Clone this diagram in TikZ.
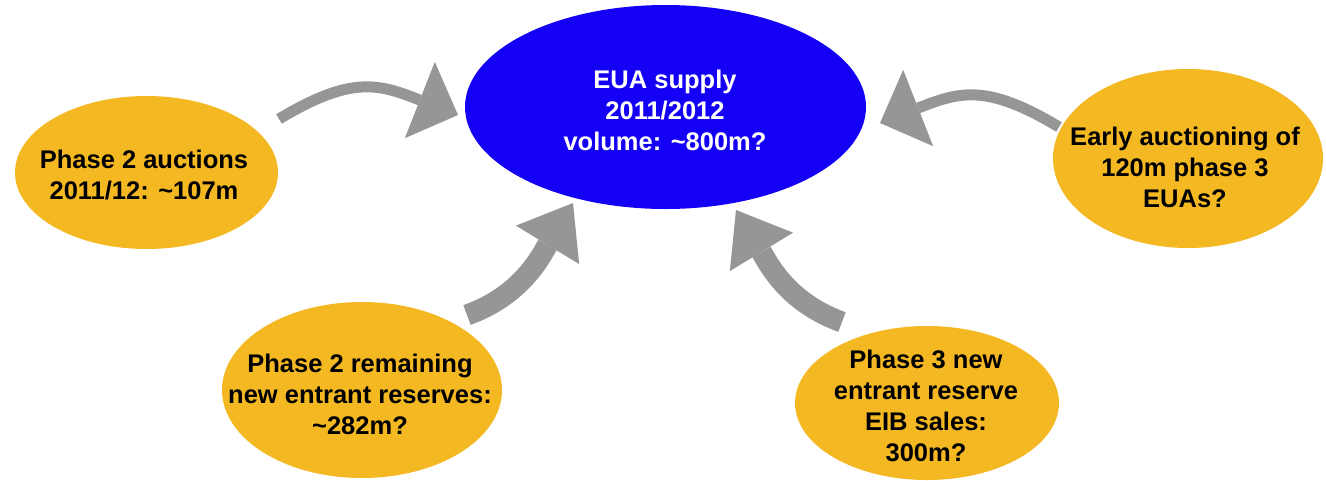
\documentclass[tikz,border=0pt]{standalone}
\usepackage{fontspec}
\setmainfont{Liberation Sans}
\usetikzlibrary{arrows.meta,shapes.geometric}
\definecolor{euablue}{HTML}{1400F5}
\definecolor{boxorange}{HTML}{F4B823}
\definecolor{arrowgray}{HTML}{969696}
\begin{document}
\begin{tikzpicture}[x=1pt,y=-1pt,
  txt/.style={font=\bfseries\fontsize{25.5}{31}\selectfont, align=center, inner sep=0pt},
  bubble/.style={ellipse, fill=boxorange, inner sep=0pt},
  hub/.style={ellipse, fill=euablue, inner sep=0pt},
  thinarrow/.style={draw=arrowgray, line width=11pt, line cap=butt,
    -{Triangle[length=41pt,width=82pt,line width=0pt]}},
  thickarrow/.style={draw=arrowgray, line width=21pt, line cap=butt,
    -{Triangle[length=49pt,width=74pt,line width=0pt]}}]
\useasboundingbox (0,0) rectangle (1326,480);
% arrow end points
\coordinate (a1s) at (279,119);
\coordinate (a1e) at (458,115);
\coordinate (a4s) at (1059,127);
\coordinate (a4e) at (880,123);
\coordinate (a2s) at (467,315);
\coordinate (a2e) at (573,203);
\coordinate (a3s) at (842,322);
\coordinate (a3e) at (736,210);
% arrows
\draw[thinarrow] (a1s) .. controls (352,75) and (379,84) .. (a1e);
\draw[thinarrow] (a4s) .. controls (986,83) and (959,92) .. (a4e);
\draw[thickarrow] (a2s) .. controls (523,295) and (542,254) .. (a2e);
\draw[thickarrow] (a3s) .. controls (786,302) and (767,261) .. (a3e);
% ellipses
\node[hub, minimum width=401pt, minimum height=204pt] (eua) at (665.5,107) {};
\node[bubble, minimum width=263pt, minimum height=153pt] (p2a) at (146.5,172.5) {};
\node[bubble, minimum width=270pt, minimum height=179pt] (early) at (1188,158.5) {};
\node[bubble, minimum width=280pt, minimum height=176pt] (p2r) at (362,390) {};
\node[bubble, minimum width=264pt, minimum height=154pt] (p3) at (927,403) {};
% texts
\node[txt, text=white] (euatxt) at (665,110)
  {EUA supply\\2011/2012\\volume: \textasciitilde 800m?};
\node[txt] (p2atxt) at (144,175)
  {Phase 2 auctions\\2011/12: \textasciitilde 107m};
\node[txt] (earlytxt) at (1185,167) {Early auctioning of\\120m phase 3\\EUAs?};
\node[txt] (p2rtxt) at (360,394)
  {Phase 2 remaining\\new entrant reserves:\\\textasciitilde 282m?};
\node[txt] (p3txt) at (926,406)
  {Phase 3 new\\entrant reserve\\EIB sales:\\300m?};
\end{tikzpicture}
\end{document}
